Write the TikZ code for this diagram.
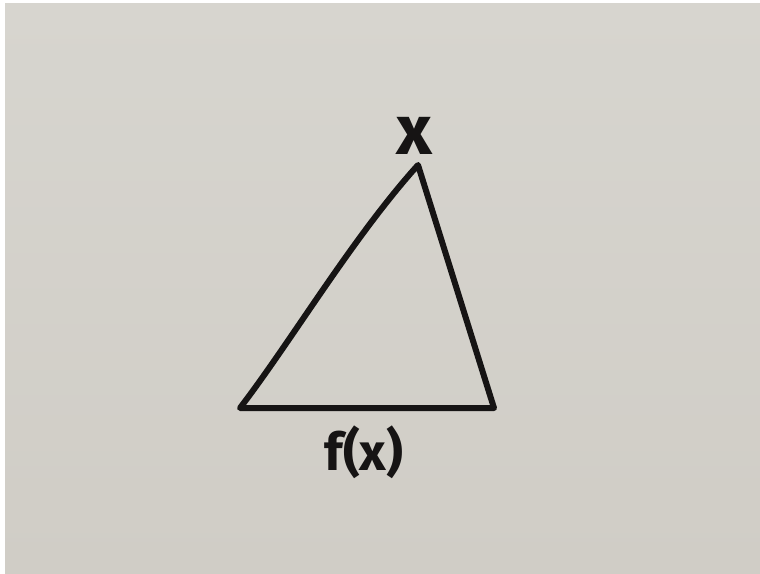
\documentclass[tikz,border=0pt]{standalone}
\usepackage{fontspec}
\setmainfont{Fira Sans}
\definecolor{paper}{RGB}{208,205,198}
\definecolor{paperhi}{RGB}{215,213,207}
\definecolor{ink}{RGB}{22,20,20}
\begin{document}
\begin{tikzpicture}[x=1pt,y=-1pt,
  pen/.style={draw=ink,line width=6pt,line join=round,line cap=round},
  lbl/.style={text=ink,inner sep=0pt}]
\useasboundingbox (0,0) rectangle (760,573);
\fill[white] (0,0) rectangle (760,573);
\shade[top color=paperhi,bottom color=paper] (5,3) rectangle (760,573);
\coordinate (A) at (418,165);
\coordinate (B) at (240,408);
\coordinate (C) at (494,408);
\draw[pen] (B) .. controls (292,340) and (353,237) .. (A) -- (C) -- cycle;
\node[lbl,font=\fontsize{70}{70}\selectfont\bfseries] (xl) at (414,136) {x};
\node[lbl,font=\fontsize{52}{52}\selectfont\bfseries] (fx) at (364,452) {f(x)};
\end{tikzpicture}
\end{document}
